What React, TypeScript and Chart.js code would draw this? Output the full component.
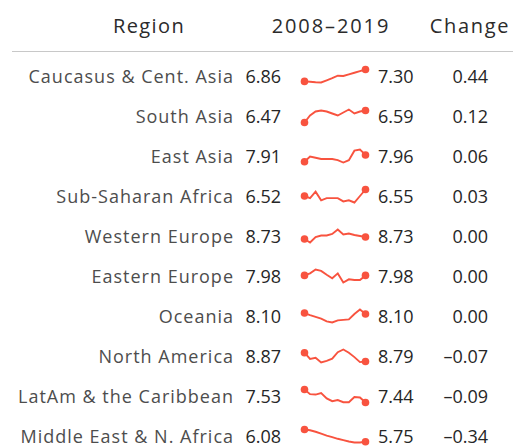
import React, { useEffect, useRef } from "react";
import { Chart, registerables } from "chart.js";

Chart.register(...registerables);

const years = ["2008", "2009", "2010", "2011", "2012", "2013", "2014", "2015", "2016", "2017", "2018", "2019"];

const regions = [
  "Caucasus & Cent. Asia",
  "South Asia",
  "East Asia",
  "Sub-Saharan Africa",
  "Western Europe",
  "Eastern Europe",
  "Oceania",
  "North America",
  "LatAm & the Caribbean",
  "Middle East & N. Africa",
];

const caucasus = [6.86, 6.85, 6.83, 6.82, 6.9, 6.98, 7.07, 7.06, 7.12, 7.18, 7.24, 7.3];
const southAsia = [6.47, 6.54, 6.58, 6.59, 6.58, 6.56, 6.54, 6.57, 6.6, 6.56, 6.58, 6.59];
const eastAsia = [7.906, 7.95, 7.94, 7.93, 7.93, 7.93, 7.92, 7.9, 7.92, 8.0, 8.01, 7.964];
const subSaharan = [6.52, 6.51, 6.54, 6.5, 6.51, 6.51, 6.51, 6.495, 6.5, 6.49, 6.52, 6.55];
const westernEurope = [8.729, 8.722, 8.733, 8.736, 8.736, 8.739, 8.748, 8.738, 8.74, 8.737, 8.735, 8.733];
const easternEurope = [7.98, 7.997, 8.03, 8.018, 7.985, 7.956, 7.997, 7.92, 7.947, 7.941, 7.941, 7.98];
const oceania = [8.102, 8.093, 8.086, 8.078, 8.067, 8.062, 8.071, 8.073, 8.075, 8.098, 8.117, 8.098];
const northAmerica = [8.866, 8.815, 8.825, 8.786, 8.8, 8.817, 8.87, 8.892, 8.866, 8.83, 8.789, 8.794];
const latAm = [7.53, 7.498, 7.495, 7.506, 7.468, 7.449, 7.457, 7.442, 7.442, 7.478, 7.475, 7.44];
const middleEast = [6.084, 6.062, 6.022, 5.969, 5.915, 5.875, 5.829, 5.794, 5.754, 5.727, 5.727, 5.746];

const series = [caucasus, southAsia, eastAsia, subSaharan, westernEurope, easternEurope, oceania, northAmerica, latAm, middleEast];

const headers = ["Region", "2008\u20132019", "Change"];

const LINE = "#f8533f";
const FONT = "'Open Sans', 'Noto Sans', sans-serif";

function fmt(v: number) {
  return v.toFixed(2);
}
function fmtChange(d: number) {
  const r = Math.round(d * 100) / 100;
  if (Math.abs(r) < 0.005) return "0.00";
  return r < 0 ? "\u2013" + Math.abs(r).toFixed(2) : r.toFixed(2);
}

function Spark({ data, top }: { data: number[]; top: number }) {
  const ref = useRef<HTMLCanvasElement | null>(null);
  useEffect(() => {
    if (!ref.current) return;
    const n = data.length;
    const radii = data.map((_, i) => (i === 0 || i === n - 1 ? 3.8 : 0));
    const chart = new Chart(ref.current, {
      type: "line",
      data: {
        labels: years,
        datasets: [
          {
            data,
            borderColor: LINE,
            backgroundColor: LINE,
            borderWidth: 1.9,
            pointRadius: radii,
            pointBorderWidth: 0,
            pointBackgroundColor: LINE,
            tension: 0,
            clip: false as any,
          },
        ],
      },
      options: {
        animation: false,
        responsive: false,
        events: [],
        layout: { padding: { left: 9.5, right: 9.5, top: 6.5, bottom: 6.5 } },
        plugins: { legend: { display: false }, tooltip: { enabled: false } },
        scales: {
          x: { type: "category", display: false, offset: false },
          y: { type: "linear", display: false, min: Math.min(...data), max: Math.max(...data) },
        },
      },
    });
    return () => chart.destroy();
  }, [data]);
  return (
    <canvas
      ref={ref}
      width={80}
      height={26}
      style={{ position: "absolute", left: 295, top, width: 80, height: 26 }}
    />
  );
}

export default function App() {
  const rowTop = 76;
  const rowGap = 40;
  const lh = 24;
  const txt = (extra: React.CSSProperties): React.CSSProperties => ({
    position: "absolute",
    height: lh,
    lineHeight: lh + "px",
    whiteSpace: "nowrap",
    fontFamily: FONT,
    ...extra,
  });
  const head = { fontSize: 20, color: "#2b2b2b", fontWeight: 500, letterSpacing: 1.4 } as React.CSSProperties;
  const val = { fontSize: 18, color: "#262626", fontWeight: 400 } as React.CSSProperties;
  return (
    <div style={{ position: "fixed", left: 0, top: 0, width: 513, height: 447, background: "#fff", overflow: "hidden" }}>
      <div style={txt({ left: 49, width: 200, top: 26 - lh / 2, textAlign: "center", ...head })}>{headers[0]}</div>
      <div style={txt({ left: 231, width: 200, top: 26 - lh / 2, textAlign: "center", ...head, letterSpacing: 1.9 })}>{headers[1]}</div>
      <div style={txt({ left: 370, width: 200, top: 26 - lh / 2, textAlign: "center", ...head, letterSpacing: 1.7 })}>{headers[2]}</div>
      <div style={{ position: "absolute", left: 12, top: 51, width: 501, height: 1, background: "#c8c8c8" }} />
      {regions.map((name, i) => {
        const c = rowTop + rowGap * i;
        const d = series[i];
        const first = d[0];
        const last = d[d.length - 1];
        return (
          <React.Fragment key={name}>
            <div style={txt({ right: 513 - 234, top: c - lh / 2, textAlign: "right", fontSize: 18, color: "#4d4d4d", fontWeight: 400, letterSpacing: 1 })}>{name}</div>
            <div style={txt({ right: 513 - 281, top: c - lh / 2, textAlign: "right", ...val })}>{fmt(first)}</div>
            <Spark data={d} top={c - 13} />
            <div style={txt({ left: 378, top: c - lh / 2, ...val })}>{fmt(last)}</div>
            <div style={txt({ right: 513 - 488, top: c - lh / 2, textAlign: "right", ...val })}>{fmtChange(last - first)}</div>
          </React.Fragment>
        );
      })}
    </div>
  );
}
